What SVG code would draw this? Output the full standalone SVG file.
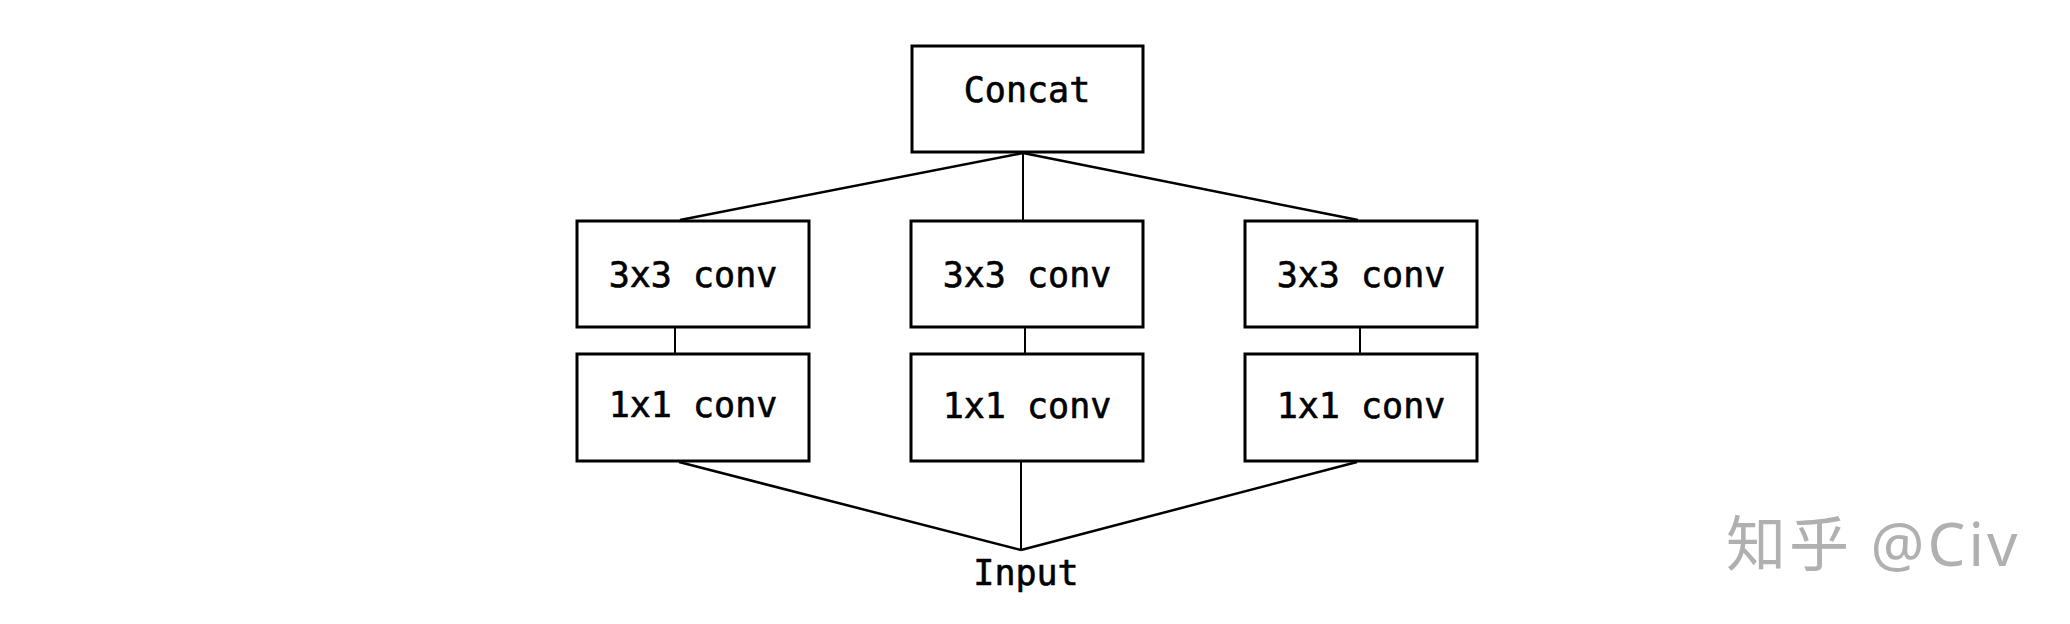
<svg xmlns="http://www.w3.org/2000/svg" width="2070" height="624" viewBox="0 0 2070 624">
<style>
.box{fill:#fff;stroke:#000;stroke-width:3}
.lbl{font-family:"DejaVu Sans Mono","Liberation Mono",monospace;font-size:35px;fill:#000;stroke:#000;stroke-width:0.6;text-anchor:middle}
.ln{stroke:#000;stroke-width:2.5;fill:none}
.lv{stroke:#000;stroke-width:2;fill:none}
.wm{font-family:"Noto Sans","Noto Sans CJK SC",sans-serif;font-size:60px;letter-spacing:3px;fill:#b0b0b0}
</style>
<rect width="2070" height="624" fill="#fff"/>
<g id="connectors">
<line class="ln" x1="1023" y1="153" x2="680" y2="220"/>
<line class="lv" x1="1023" y1="153" x2="1023" y2="220"/>
<line class="ln" x1="1023" y1="153" x2="1358" y2="220"/>
<line class="lv" x1="675" y1="327" x2="675" y2="354"/>
<line class="lv" x1="1025" y1="327" x2="1025" y2="354"/>
<line class="lv" x1="1360" y1="327" x2="1360" y2="354"/>
<line class="ln" x1="679" y1="462" x2="1021" y2="550"/>
<line class="lv" x1="1021" y1="462" x2="1021" y2="550"/>
<line class="ln" x1="1357" y1="462" x2="1021" y2="550"/>
</g>
<g id="concat"><rect class="box" x="912" y="46" width="231" height="106"/><text class="lbl" x="1027" y="102">Concat</text></g>
<g id="conv3_left"><rect class="box" x="577" y="221" width="232" height="106"/><text class="lbl" x="693" y="287">3x3 conv</text></g>
<g id="conv3_mid"><rect class="box" x="911" y="221" width="232" height="106"/><text class="lbl" x="1027" y="287">3x3 conv</text></g>
<g id="conv3_right"><rect class="box" x="1245" y="221" width="232" height="106"/><text class="lbl" x="1361" y="287">3x3 conv</text></g>
<g id="conv1_left"><rect class="box" x="577" y="354" width="232" height="107"/><text class="lbl" x="693" y="417">1x1 conv</text></g>
<g id="conv1_mid"><rect class="box" x="911" y="354" width="232" height="107"/><text class="lbl" x="1027" y="418">1x1 conv</text></g>
<g id="conv1_right"><rect class="box" x="1245" y="354" width="232" height="107"/><text class="lbl" x="1361" y="418">1x1 conv</text></g>
<g id="input"><text class="lbl" x="1026" y="585">Input</text></g>
<text class="wm" x="1726" y="566">知乎 @Civ</text>
</svg>
